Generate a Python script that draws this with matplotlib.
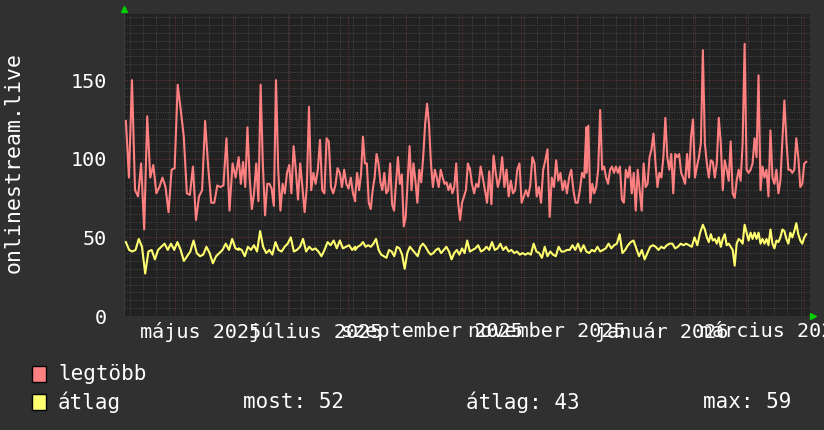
import numpy as np
import matplotlib
matplotlib.use("Agg")
import matplotlib.pyplot as plt
import matplotlib.dates as mdates
from matplotlib.patches import Rectangle
from datetime import datetime

# date range of the graph and the edges of the reading segments
x_start = datetime(2025, 4, 4)
x_end = datetime(2026, 4, 4)
seg_edges = ["2025-04-05", "2025-06-04", "2025-08-05", "2025-10-05",
             "2025-12-06", "2026-02-06", "2026-04-02"]

# legtöbb (max) - values read per segment
legtobb_1 = [124, 88, 150, 80, 76, 97, 55, 127, 88, 96, 78, 82, 88, 82, 66, 93, 94, 147, 131,
             114, 78, 77, 95, 61, 76, 80, 124, 95, 72, 72, 83, 82, 83, 113, 67, 97, 88, 101]
legtobb_2 = [101, 84, 98, 82, 120, 88, 68, 78, 97, 73, 147, 97, 64, 84, 84, 81, 70, 150, 93, 67,
             84, 78, 91, 96, 78, 108, 93, 74, 97, 82, 66, 82, 133, 80, 91, 84, 93, 112, 80, 78,
             113, 111, 82, 78, 83, 94, 91, 82, 93, 84, 81, 88, 78, 73]
legtobb_3 = [76, 91, 80, 90, 114, 97, 97, 72, 68, 80, 88, 103, 97, 85, 80, 91, 78, 80, 97, 71,
             67, 84, 101, 84, 90, 57, 63, 86, 108, 80, 97, 86, 72, 93, 85, 101, 122, 135, 122, 97,
             82, 93, 88, 82, 93, 88, 84, 85, 80, 84, 78, 82, 97, 72, 61, 72, 76, 80, 97, 93]
legtobb_4 = [94, 84, 78, 84, 82, 95, 88, 80, 72, 92, 71, 102, 91, 82, 88, 101, 82, 93, 76, 86,
             78, 80, 93, 97, 72, 76, 80, 76, 83, 101, 97, 76, 82, 72, 93, 99, 106, 63, 88, 82,
             99, 86, 91, 80, 86, 78, 88, 93, 80, 72, 72, 80, 91, 88, 120]
legtobb_5 = [91, 121, 72, 84, 78, 82, 93, 131, 93, 95, 88, 84, 93, 95, 91, 95, 91, 95, 74, 72,
             93, 88, 95, 78, 91, 67, 93, 80, 67, 97, 82, 84, 101, 106, 116, 97, 82, 91, 88, 101,
             126, 101, 93, 103, 78, 103, 101, 103, 91, 88, 84, 103, 88, 114, 125, 88, 95, 101, 110, 169]
legtobb_6 = [169, 110, 97, 88, 99, 98, 88, 97, 126, 110, 80, 99, 93, 86, 111, 78, 75, 86, 93, 86,
             110, 173, 93, 91, 93, 97, 113, 101, 153, 80, 95, 88, 93, 76, 118, 88, 84, 93, 78, 86,
             112, 137, 112, 93, 93, 91, 93, 113, 101, 82, 84, 97, 98]

# átlag (average)
atlag_1 = [47, 42, 41, 42, 49, 44, 27, 41, 42, 36, 42, 44, 46, 42, 46, 42, 47, 42, 35, 38,
           41, 48, 40, 38, 39, 44, 40, 33.5, 38, 40, 42, 46, 42, 49, 43, 42]
atlag_2 = [43, 42, 38, 44, 42, 45, 41, 54, 44, 40, 42, 39, 47, 42, 41, 44, 46, 50, 41, 42,
           44, 49, 41, 44, 42, 43, 41, 38, 42, 47, 45, 48, 43, 48, 43, 44, 45, 42, 44]
atlag_3 = [42, 44, 45, 47, 44, 45, 44, 46, 49, 42, 39, 38, 37, 42, 41, 38, 44, 43, 39, 30,
           40, 44, 42, 40, 38, 44, 46, 44, 41, 39, 40, 42, 43, 40, 42, 44, 41, 36, 40, 42,
           39, 43, 40, 48, 41]
atlag_4 = [41, 42, 43, 45, 41, 42, 44, 42, 47, 42, 43, 46, 42, 44, 41, 42, 40, 41, 39, 40,
           39, 40, 39, 46, 41, 40, 37, 44, 38, 41, 39, 38, 44, 41, 41, 42, 42, 45, 42, 46,
           41, 45, 41]
atlag_5 = [41, 40, 42, 41, 44, 41, 42, 43, 46, 43, 45, 46, 52, 40, 42, 45, 47, 48, 43, 38,
           42, 36, 40, 44, 45, 44, 42, 44, 43, 45, 46, 46, 43, 44, 46, 45, 46, 45, 44, 50,
           45, 53, 58]
atlag_6 = [58, 55, 50, 47, 52, 48, 49, 46, 50, 44, 49, 52, 45, 46, 44, 42, 32, 46, 49, 48,
           46, 58, 53, 48, 53, 49, 53, 49, 53, 46, 49, 46, 49, 45, 55, 46, 43, 48, 47, 50,
           55, 54, 49, 46, 53, 50, 54, 59, 52, 48, 46, 50, 52]

month_labels = ["május 2025", "július 2025", "szeptember 2025",
                "november 2025", "január 2026", "március 2026"]
label_dates = ["2025-05-15", "2025-07-15", "2025-09-15",
               "2025-11-15", "2026-01-15", "2026-03-15"]
y_ticks = [0, 50, 100, 150]
stat_labels = ["most: 52", "átlag: 43", "max: 59"]

BG = "#303030"
PLOT_BG = "#212121"
RED = "#ff8080"
YEL = "#ffff70"
GRID = "#474747"
MGRID = "#6e3030"
FONT = "DejaVu Sans Mono"


def build(segments):
    # each segment is evenly spaced between its two edge dates
    xs, ys = [], []
    for i, seg in enumerate(segments):
        d0 = mdates.datestr2num(seg_edges[i])
        d1 = mdates.datestr2num(seg_edges[i + 1])
        xs.extend(np.linspace(d0, d1, len(seg)))
        ys.extend(seg)
    return np.array(xs), np.array(ys)


xr, yr = build([legtobb_1, legtobb_2, legtobb_3, legtobb_4, legtobb_5, legtobb_6])
xy, yy = build([atlag_1, atlag_2, atlag_3, atlag_4, atlag_5, atlag_6])

fig = plt.figure(figsize=(8.24, 4.30), dpi=100, facecolor=BG)
ax = fig.add_axes([124 / 824, 1 - 316 / 430, 686 / 824, 302 / 430])
ax.set_facecolor(PLOT_BG)

x0 = mdates.date2num(x_start)
x1 = mdates.date2num(x_end)
ax.set_xlim(x0, x1)
ax.set_ylim(0, 192)

# grid: minor every 5, major every 50; weekly minor, monthly major
dots = (0, (1, 1.4))
for v in np.arange(5, 192, 5):
    major = v % 50 == 0
    ax.axhline(v, color=MGRID if major else GRID, lw=0.72, ls=dots, zorder=1)
weeks = mdates.WeekdayLocator(byweekday=mdates.MO).tick_values(x_start, x_end)
months = mdates.MonthLocator().tick_values(x_start, x_end)
for w in weeks:
    if x0 < w < x1:
        ax.axvline(w, color=GRID, lw=0.72, ls=dots, zorder=1)
for m in months:
    if x0 < m < x1:
        ax.axvline(m, color=MGRID, lw=0.72, ls=dots, zorder=1)

ax.plot(xr, yr, color=RED, lw=1.5, zorder=3)
ax.plot(xy, yy, color=YEL, lw=1.5, zorder=3)

for s in ax.spines.values():
    s.set_visible(False)
ax.axvline(x0, color="#3a3a3a", lw=1.5, zorder=2)

ax.set_yticks(y_ticks)
ax.set_yticklabels([str(t) for t in y_ticks])
ax.set_xticks([mdates.datestr2num(d) for d in label_dates])
ax.set_xticklabels(month_labels)
ax.tick_params(axis="y", length=0, pad=12, labelsize=14.5, labelcolor="white")
ax.tick_params(axis="x", length=0, pad=4, labelsize=14.5, labelcolor="white")
for lab in ax.get_xticklabels() + ax.get_yticklabels():
    lab.set_family(FONT)

# green arrows at axis ends
ax.plot([0], [1.015], marker="^", color="#00d000", ms=4, transform=ax.transAxes, clip_on=False)
ax.plot([1.004], [0], marker=">", color="#00d000", ms=4, transform=ax.transAxes, clip_on=False)

fig.text(14 / 824, 1 - 163 / 430, "onlinestream.live", rotation=90, ha="center",
         va="center", color="white", family=FONT, fontsize=15.5)

# legend
for ypix, col, name in [(374, RED, "legtöbb"), (402, YEL, "átlag")]:
    fig.patches.append(Rectangle((32 / 824, 1 - (ypix + 8) / 430), 14 / 824, 16 / 430,
                                 transform=fig.transFigure, facecolor=col,
                                 edgecolor="black", lw=1))
    fig.text(58 / 824, 1 - ypix / 430, name, ha="left", va="center", color="white",
             family=FONT, fontsize=15)
for xpix, txt in zip([243, 466, 703], stat_labels):
    fig.text(xpix / 824, 1 - 402 / 430, txt, ha="left", va="center", color="white",
             family=FONT, fontsize=15)

fig.savefig("out.png", dpi=100, facecolor=BG)
